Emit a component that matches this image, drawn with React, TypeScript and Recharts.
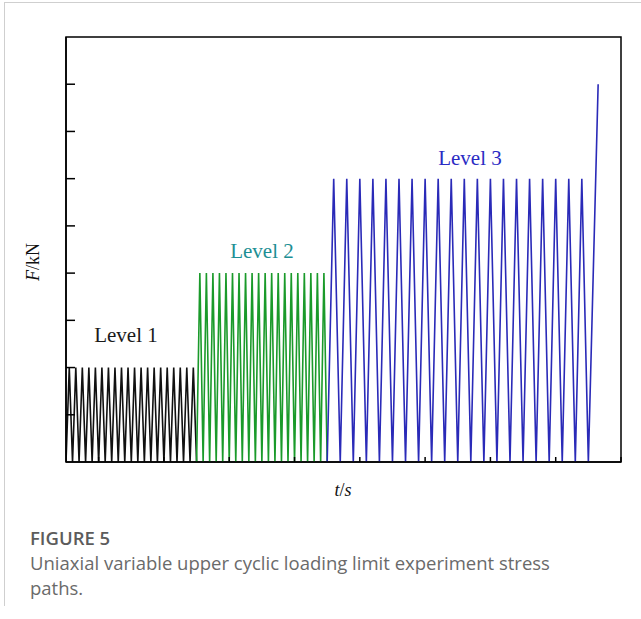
import React from 'react';
import { LineChart, Line, XAxis, YAxis, ReferenceArea } from 'recharts';

// Loading protocol: three force levels, each a run of triangular cycles
const levelNames = ['Level 1', 'Level 2', 'Level 3'];
const levelPeaks = [2, 4, 6];
const levelCycles = [20, 20, 20];
const levelPeriods = [1, 1, 2];
const levelColors = ['#111111', '#1a9a2a', '#2a2ab8'];
const labelColors = ['#1a1a1a', '#1d8f94', '#2b2bc4'];

// Final ramp to failure after the last level
const rampTime = [80, 81.5];
const rampForce = [0, 8];

const xTicks = [5, 15, 25, 35, 45, 55, 65, 75, 85];
const yTicks = [1, 2, 3, 4, 5, 6, 7, 8];

type Pt = { t: number; f: number };

// turn peak / cycle count / period into the vertex list of each level
const buildLevels = (): Pt[][] => {
  let t0 = 0;
  return levelPeaks.map((peak, i) => {
    const p = levelPeriods[i];
    const pts: Pt[] = [];
    for (let c = 0; c < levelCycles[i]; c++) {
      pts.push({ t: t0 + c * p, f: 0 });
      pts.push({ t: t0 + c * p + p / 2, f: peak });
    }
    t0 += levelCycles[i] * p;
    pts.push({ t: t0, f: 0 });
    return pts;
  });
};

const levels = buildLevels();
levels[2] = levels[2].concat(
  rampTime.slice(1).map((t, i) => ({ t, f: rampForce[i + 1] }))
);

const serif = '"Liberation Serif", "Times New Roman", serif';
const sans = '"Open Sans", "Noto Sans", sans-serif';

// ticks are drawn inward without labels
const NoLabel = () => <g />;

export default function App() {
  return (
    <div style={{ position: 'absolute', left: 0, top: 0, width: 641, height: 619, background: '#fff' }}>
      <div
        style={{
          position: 'absolute',
          left: 4,
          top: 2,
          width: 637,
          height: 603,
          borderLeft: '1px solid #cfcfcf',
          borderTop: '1px solid #cfcfcf',
        }}
      />
      <LineChart
        width={641}
        height={470}
        margin={{ top: 37, right: 20, left: 66, bottom: 8 }}
        style={{ position: 'absolute', left: 0, top: 0 }}
      >
        <XAxis
          type="number"
          dataKey="t"
          domain={[0, 85]}
          ticks={xTicks}
          mirror
          tick={NoLabel}
          tickSize={5}
          tickLine={{ stroke: '#000', strokeWidth: 1.5 }}
          stroke="#000"
          strokeWidth={1.5}
          allowDataOverflow
        />
        <YAxis
          type="number"
          dataKey="f"
          domain={[0, 9]}
          ticks={yTicks}
          mirror
          tick={NoLabel}
          tickSize={9}
          tickLine={{ stroke: '#000', strokeWidth: 1.5 }}
          stroke="#000"
          strokeWidth={1.5}
          allowDataOverflow
        />
        <ReferenceArea x1={0} x2={85} y1={0} y2={9} fill="none" stroke="#000" strokeWidth={1.5} />
        {levels.map((pts, i) => (
          <Line
            key={levelNames[i]}
            data={pts}
            dataKey="f"
            type="linear"
            stroke={levelColors[i]}
            strokeWidth={1.6}
            dot={false}
            activeDot={false}
            isAnimationActive={false}
          />
        ))}
      </LineChart>
      <svg width={641} height={619} style={{ position: 'absolute', left: 0, top: 0, pointerEvents: 'none' }}>
        <text x={126} y={342} textAnchor="middle" fontFamily={serif} fontSize={21} fill={labelColors[0]}>
          {levelNames[0]}
        </text>
        <text x={262} y={258} textAnchor="middle" fontFamily={serif} fontSize={21} fill={labelColors[1]}>
          {levelNames[1]}
        </text>
        <text x={470} y={165} textAnchor="middle" fontFamily={serif} fontSize={21} fill={labelColors[2]}>
          {levelNames[2]}
        </text>
        <text
          x={39}
          y={262}
          textAnchor="middle"
          fontFamily={serif}
          fontSize={18}
          fill="#111"
          transform="rotate(-90 39 262)"
        >
          <tspan fontStyle="italic">F</tspan>/kN
        </text>
        <text x={343} y={496} textAnchor="middle" fontFamily={serif} fontSize={18} fill="#111">
          <tspan fontStyle="italic">t</tspan>/<tspan fontStyle="italic">s</tspan>
        </text>
        <text x={30} y={545} fontFamily={sans} fontSize={18.5} fontWeight={600} fill="#5c5c5c">
          FIGURE 5
        </text>
        <text x={30} y={570} fontFamily={sans} fontSize={18.5} fill="#6a6a6a">
          Uniaxial variable upper cyclic loading limit experiment stress
        </text>
        <text x={30} y={595} fontFamily={sans} fontSize={18.5} fill="#6a6a6a">
          paths.
        </text>
      </svg>
    </div>
  );
}
